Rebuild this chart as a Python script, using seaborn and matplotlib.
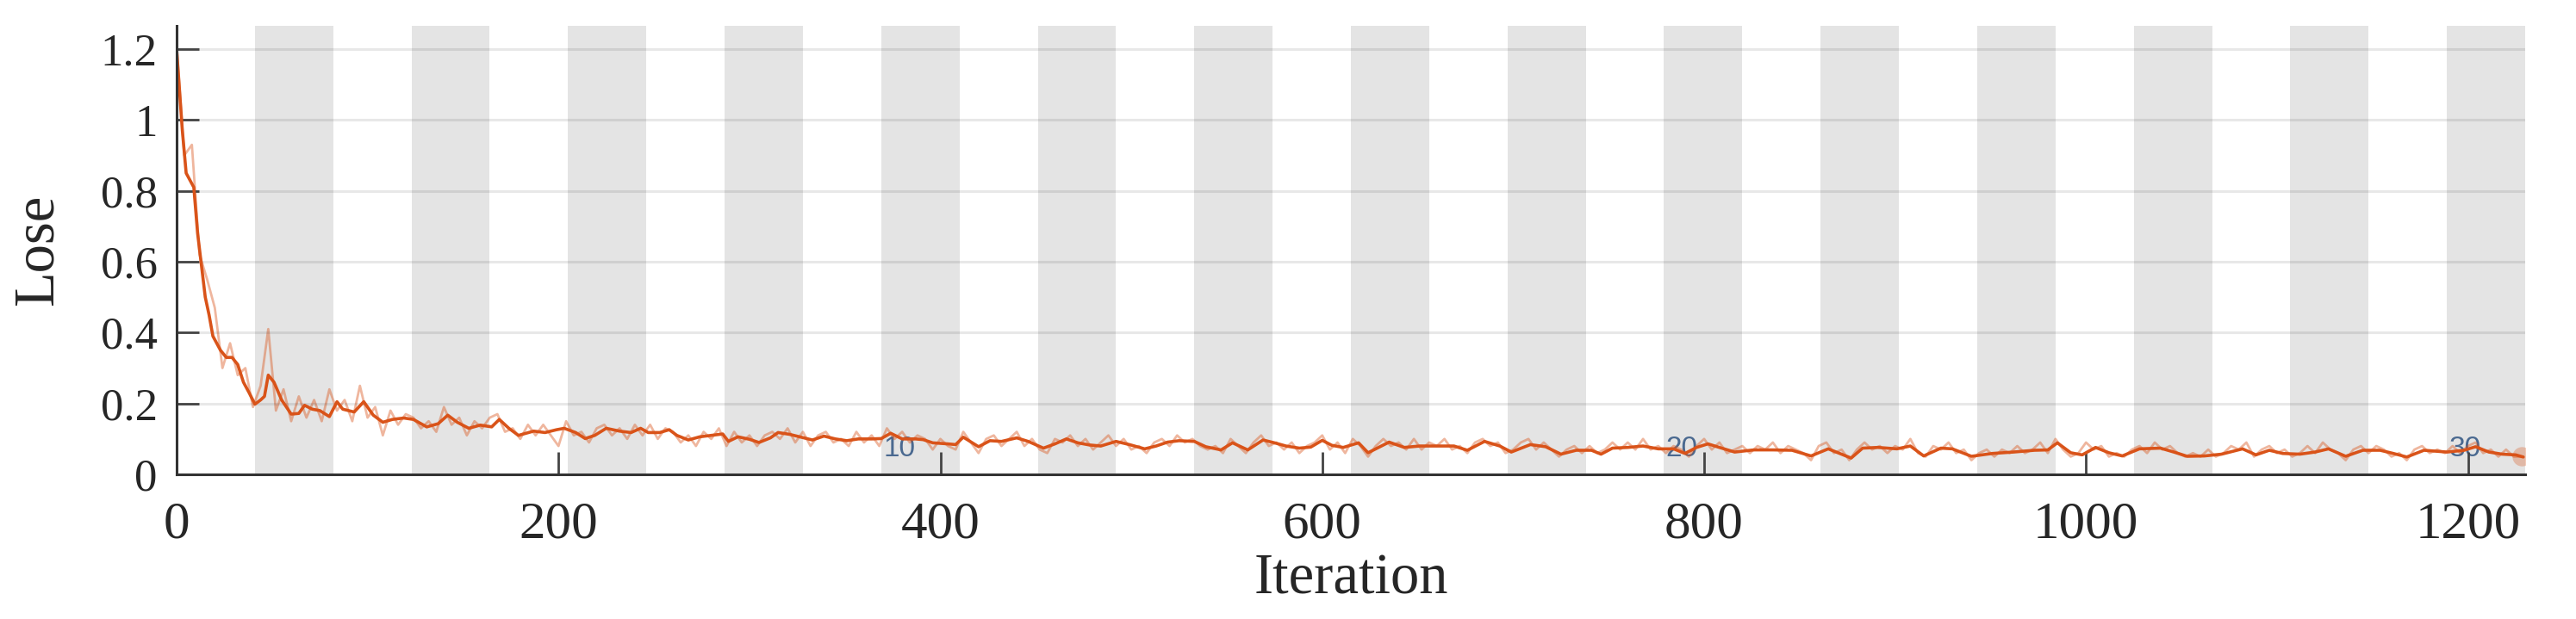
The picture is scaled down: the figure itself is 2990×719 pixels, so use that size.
import numpy as np
import pandas as pd
import matplotlib
matplotlib.use('Agg')
import matplotlib.pyplot as plt
import seaborn as sns

sns.set_theme(style='white')
plt.rcParams['font.family'] = ['Liberation Serif', 'DejaVu Serif']

# Training progress: smoothed loss (iteration, loss)
smooth_iter = [0, 3, 5, 7, 9, 11, 13, 15, 17, 19, 21, 23, 26, 29, 32, 35, 38, 41, 44, 46,
               48, 51, 55, 60, 64, 67, 71, 75, 80, 84, 87, 93, 98, 103, 108, 113, 119, 124, 131, 137,
               142, 147, 153, 159, 165, 169, 174, 179, 187, 193, 199, 203, 209, 214, 219, 225, 232, 238, 243, 247,
               253, 258, 262, 268, 274, 280, 286, 289, 294, 300, 305, 311, 315, 321, 327, 333, 339, 345, 351, 357,
               364, 369, 374, 380, 387, 391, 396, 404, 408, 412, 420, 426, 432, 440, 446, 454, 460, 466, 472, 478,
               484, 492, 499, 507, 513, 519, 525, 533, 539, 547, 553, 561, 569, 575, 581, 588, 594, 600, 605, 611,
               619, 624, 635, 643, 651, 661, 669, 676, 685, 693, 699, 709, 717, 725, 733, 741, 746, 752, 760, 768,
               776, 784, 790, 796, 802, 808, 816, 826, 836, 846, 856, 865, 871, 877, 883, 891, 901, 908, 915, 924,
               930, 940, 951, 962, 973, 980, 985, 992, 998, 1005, 1012, 1019, 1028, 1039, 1046, 1053, 1062, 1071, 1082, 1089,
               1096, 1103, 1112, 1120, 1127, 1136, 1145, 1154, 1161, 1168, 1177, 1189, 1198, 1204, 1211, 1218, 1225, 1229]
smooth_loss = [1.20, 0.97, 0.85, 0.83, 0.81, 0.68, 0.59, 0.50, 0.45, 0.39, 0.37, 0.35, 0.33, 0.33, 0.31, 0.26, 0.23, 0.198, 0.21, 0.22,
               0.28, 0.26, 0.21, 0.17, 0.172, 0.195, 0.184, 0.18, 0.163, 0.205, 0.184, 0.176, 0.205, 0.167, 0.147, 0.155, 0.159, 0.155, 0.134, 0.143,
               0.167, 0.147, 0.130, 0.139, 0.134, 0.155, 0.130, 0.110, 0.122, 0.118, 0.126, 0.130, 0.118, 0.101, 0.110, 0.130, 0.122, 0.118, 0.130, 0.118,
               0.118, 0.126, 0.110, 0.097, 0.106, 0.110, 0.114, 0.093, 0.106, 0.099, 0.090, 0.103, 0.118, 0.113, 0.105, 0.097, 0.108, 0.100, 0.095, 0.100,
               0.100, 0.101, 0.116, 0.100, 0.100, 0.098, 0.089, 0.086, 0.084, 0.105, 0.078, 0.095, 0.093, 0.103, 0.093, 0.074, 0.086, 0.100, 0.089, 0.083,
               0.080, 0.093, 0.084, 0.072, 0.080, 0.091, 0.095, 0.093, 0.078, 0.069, 0.089, 0.069, 0.097, 0.089, 0.080, 0.074, 0.077, 0.096, 0.082, 0.076,
               0.089, 0.061, 0.091, 0.076, 0.080, 0.080, 0.080, 0.068, 0.093, 0.080, 0.063, 0.084, 0.078, 0.057, 0.068, 0.068, 0.057, 0.074, 0.076, 0.080,
               0.072, 0.072, 0.059, 0.076, 0.086, 0.076, 0.063, 0.069, 0.069, 0.068, 0.052, 0.072, 0.059, 0.046, 0.074, 0.076, 0.072, 0.080, 0.052, 0.074,
               0.072, 0.051, 0.059, 0.063, 0.068, 0.069, 0.089, 0.061, 0.055, 0.076, 0.061, 0.052, 0.072, 0.074, 0.063, 0.051, 0.052, 0.057, 0.072, 0.055,
               0.068, 0.059, 0.057, 0.063, 0.072, 0.051, 0.068, 0.068, 0.059, 0.049, 0.068, 0.063, 0.068, 0.078, 0.063, 0.057, 0.055, 0.049]

# Raw mini-batch loss, one reading every 4 iterations
raw_step = 4
raw_loss = [1.21, 0.90, 0.93, 0.62, 0.55, 0.47, 0.30, 0.37, 0.28, 0.30,
            0.19, 0.25, 0.41, 0.18, 0.24, 0.15, 0.22, 0.16, 0.21, 0.15,
            0.24, 0.18, 0.21, 0.15, 0.25, 0.16, 0.19, 0.11, 0.18, 0.14,
            0.17, 0.16, 0.13, 0.15, 0.12, 0.19, 0.14, 0.16, 0.11, 0.15,
            0.13, 0.16, 0.17, 0.12, 0.13, 0.10, 0.14, 0.11, 0.14, 0.11,
            0.08, 0.15, 0.11, 0.12, 0.09, 0.13, 0.14, 0.11, 0.13, 0.10,
            0.14, 0.11, 0.14, 0.10, 0.13, 0.12, 0.09, 0.11, 0.08, 0.12,
            0.10, 0.13, 0.08, 0.12, 0.09, 0.11, 0.08, 0.11, 0.12, 0.10,
            0.13, 0.09, 0.12, 0.08, 0.11, 0.12, 0.09, 0.10, 0.08, 0.12,
            0.09, 0.11, 0.08, 0.13, 0.10, 0.12, 0.09, 0.11, 0.10, 0.07,
            0.10, 0.08, 0.07, 0.12, 0.09, 0.06, 0.10, 0.11, 0.08, 0.10,
            0.12, 0.08, 0.10, 0.07, 0.06, 0.10, 0.09, 0.11, 0.08, 0.10,
            0.07, 0.09, 0.11, 0.08, 0.10, 0.07, 0.08, 0.06, 0.09, 0.10,
            0.08, 0.11, 0.09, 0.10, 0.08, 0.07, 0.08, 0.06, 0.10, 0.08,
            0.06, 0.09, 0.11, 0.08, 0.09, 0.07, 0.09, 0.06, 0.08, 0.09,
            0.11, 0.07, 0.09, 0.06, 0.10, 0.08, 0.05, 0.08, 0.10, 0.08,
            0.09, 0.07, 0.10, 0.07, 0.09, 0.08, 0.10, 0.07, 0.08, 0.06,
            0.09, 0.10, 0.08, 0.09, 0.06, 0.07, 0.09, 0.10, 0.07, 0.09,
            0.07, 0.05, 0.07, 0.08, 0.06, 0.08, 0.06, 0.07, 0.09, 0.07,
            0.09, 0.07, 0.10, 0.07, 0.08, 0.06, 0.08, 0.07, 0.05, 0.08,
            0.10, 0.07, 0.09, 0.06, 0.07, 0.08, 0.06, 0.08, 0.07, 0.09,
            0.06, 0.08, 0.07, 0.06, 0.04, 0.08, 0.09, 0.06, 0.07, 0.04,
            0.07, 0.09, 0.07, 0.08, 0.06, 0.08, 0.07, 0.10, 0.06, 0.05,
            0.08, 0.07, 0.09, 0.06, 0.07, 0.04, 0.06, 0.07, 0.05, 0.07,
            0.06, 0.08, 0.06, 0.07, 0.09, 0.06, 0.10, 0.07, 0.05, 0.06,
            0.09, 0.07, 0.08, 0.05, 0.06, 0.05, 0.07, 0.08, 0.06, 0.09,
            0.07, 0.08, 0.06, 0.05, 0.06, 0.05, 0.07, 0.05, 0.06, 0.08,
            0.07, 0.09, 0.05, 0.07, 0.08, 0.06, 0.07, 0.05, 0.06, 0.08,
            0.06, 0.09, 0.07, 0.06, 0.04, 0.07, 0.08, 0.06, 0.08, 0.07,
            0.05, 0.06, 0.04, 0.07, 0.08, 0.06, 0.07, 0.06, 0.08, 0.06,
            0.08, 0.09, 0.06, 0.07, 0.05, 0.07, 0.05, 0.05]

n_epochs = 30
iters_per_epoch = 41
epoch_labels = [10, 20, 30]
x_ticks = [0, 200, 400, 600, 800, 1000, 1200]
y_ticks = [0, 0.2, 0.4, 0.6, 0.8, 1.0, 1.2]

smooth = pd.DataFrame({'iteration': smooth_iter, 'loss': smooth_loss})
raw = pd.DataFrame({'iteration': np.arange(len(raw_loss)) * raw_step, 'loss': raw_loss})

orange = '#D95319'

fig = plt.figure(figsize=(29.9, 7.19), dpi=100)
ax = fig.add_axes([205 / 2990, 1 - 551 / 719, 2726 / 2990, 521 / 719])

# alternating epoch bands
for e in range(2, n_epochs + 1, 2):
    ax.axvspan((e - 1) * iters_per_epoch, e * iters_per_epoch, color='#e4e4e4', lw=0, zorder=0)

for e in epoch_labels:
    ax.text((e - 1) * iters_per_epoch + 1, 0.05, str(e), family=['Liberation Sans', 'DejaVu Sans'],
            fontsize=24, color='#4a6990', ha='left', va='baseline', zorder=1)

sns.lineplot(data=raw, x='iteration', y='loss', ax=ax, color=orange, alpha=0.42, lw=2,
             estimator=None, zorder=2)
sns.lineplot(data=smooth, x='iteration', y='loss', ax=ax, color=orange, lw=2.6,
             estimator=None, zorder=3)
ax.scatter(raw['iteration'].iloc[-1], raw['loss'].iloc[-1], s=260, color=orange, alpha=0.3,
           lw=0, zorder=3)

ax.set_xlim(0, n_epochs * iters_per_epoch)
ax.set_ylim(0, 1.2656)
ax.set_xticks(x_ticks)
ax.set_yticks(y_ticks)
ax.set_yticklabels(['%g' % v for v in y_ticks])
ax.yaxis.grid(True, color='black', alpha=0.09, lw=2.2, zorder=1)
ax.xaxis.grid(False)
ax.set_axisbelow(False)

for s in ['top', 'right']:
    ax.spines[s].set_visible(False)
for s in ['left', 'bottom']:
    ax.spines[s].set_color('#333333')
    ax.spines[s].set_linewidth(2.2)
    ax.spines[s].set_zorder(4)

ax.tick_params(axis='both', which='major', bottom=True, left=True, direction='in',
               length=19, width=2, color='#444444')
ax.tick_params(axis='x', labelsize=44, pad=22)
ax.tick_params(axis='y', labelsize=38, pad=16)
ax.set_xlabel('Iteration', fontsize=48, labelpad=4)
ax.set_ylabel('Lose', fontsize=48, labelpad=30)

fig.savefig('out.png', dpi=100, facecolor='white')
